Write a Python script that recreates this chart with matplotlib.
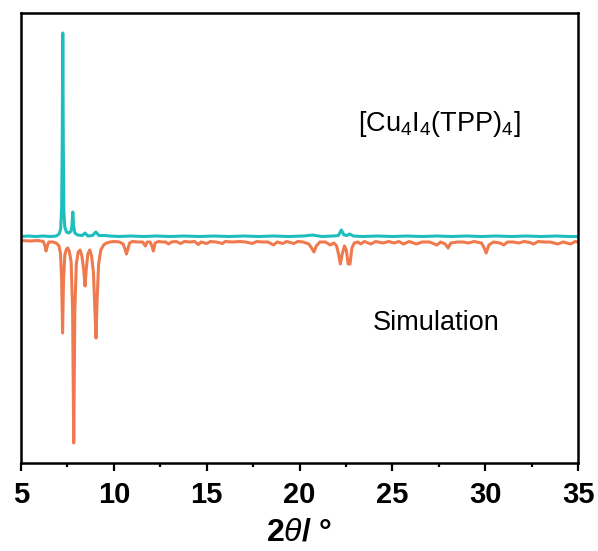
import matplotlib.pyplot as plt
from matplotlib.ticker import MultipleLocator

plt.rcParams["font.family"] = ["Liberation Sans", "DejaVu Sans"]
plt.rcParams["mathtext.fontset"] = "custom"
plt.rcParams["mathtext.rm"] = "Liberation Sans"
plt.rcParams["mathtext.it"] = "Liberation Sans:italic"
plt.rcParams["mathtext.bf"] = "Liberation Sans:bold"

# Measured pattern of [Cu4I4(TPP)4] (2theta, intensity a.u.)
exp_two_theta = [5.0, 5.4, 5.8, 6.2, 6.6, 6.9, 7.05, 7.14, 7.19, 7.22, 7.25, 7.28,
                 7.31, 7.36, 7.45, 7.58, 7.7, 7.75, 7.79, 7.83, 7.9, 8.05, 8.3,
                 8.45, 8.6, 8.85, 9.03, 9.2, 9.5, 9.8, 10.3, 10.9, 11.6, 12.3,
                 13.0, 13.8, 14.6, 15.4, 16.2, 17.0, 17.8, 18.6, 19.4, 20.2,
                 20.7, 21.2, 21.8, 22.1, 22.25, 22.4, 22.55, 22.7, 22.9, 23.4,
                 24.2, 25.0, 25.8, 26.6, 27.4, 28.2, 29.0, 29.8, 30.6, 31.4,
                 32.2, 33.0, 33.8, 34.5, 35.0]
exp_intensity = [0.5, 1, 0.5, 1, 0.5, 1, 3, 8, 30, 90, 204, 90,
                 25, 10, 5, 4, 6, 12, 25, 12, 4, 2, 1.5,
                 4, 1, 1.5, 5, 1.5, 1.5, 1, 0.5, 1, 0.5, 1,
                 0.5, 1, 0.5, 1, 0.5, 1, 0.5, 1, 0.5, 1,
                 2, 0.5, 1, 1.5, 7, 2, 1.5, 3, 1, 0.5,
                 1, 0.5, 1, 0.5, 1, 0.5, 1, 0.5, 1, 0.5,
                 1, 0.5, 1, 0.5, 0.5]

# Simulated pattern (2theta, intensity a.u.), plotted downwards
sim_two_theta = [5.0, 5.5, 5.9, 6.2, 6.3, 6.35, 6.42, 6.5, 6.7, 6.9, 7.05, 7.13,
                 7.19, 7.24, 7.29, 7.36, 7.45, 7.52, 7.6, 7.7, 7.78, 7.84, 7.9,
                 7.98, 8.08, 8.18, 8.28, 8.38, 8.45, 8.52, 8.6, 8.7, 8.8, 8.9,
                 8.98, 9.04, 9.1, 9.18, 9.3, 9.45, 9.6, 9.8, 10.0, 10.3, 10.5,
                 10.6, 10.68, 10.76, 10.85, 11.0, 11.3, 11.55, 11.7, 11.8, 11.95,
                 12.05, 12.13, 12.22, 12.4, 12.6, 12.8, 12.95, 13.1, 13.35, 13.6,
                 13.8, 14.1, 14.35, 14.55, 14.7, 15.0, 15.2, 15.5, 15.85, 16.0,
                 16.4, 16.8, 17.1, 17.45, 17.7, 18.0, 18.3, 18.6, 18.8, 19.1,
                 19.3, 19.7, 19.9, 20.2, 20.5, 20.65, 20.78, 20.9, 21.1, 21.4,
                 21.65, 21.85, 22.0, 22.1, 22.2, 22.3, 22.42, 22.52, 22.62, 22.72,
                 22.82, 22.95, 23.15, 23.3, 23.5, 23.85, 24.1, 24.5, 24.8, 25.1,
                 25.35, 25.6, 25.9, 26.3, 26.6, 27.0, 27.4, 27.6, 27.85, 28.0,
                 28.15, 28.5, 28.8, 29.1, 29.4, 29.8, 29.95, 30.05, 30.2, 30.45,
                 30.8, 31.0, 31.2, 31.5, 31.8, 32.1, 32.4, 32.6, 32.85, 33.2,
                 33.5, 33.9, 34.2, 34.6, 34.85, 35.0]
sim_intensity = [0.5, 1, 0.5, 1.5, 6, 11, 6, 2, 2, 3, 6, 14,
                 40, 93, 40, 15, 9, 8, 11, 22, 70, 203, 70,
                 24, 12, 10, 16, 30, 46, 28, 14, 10, 16, 32,
                 70, 98, 60, 24, 10, 5, 3, 2, 1.5, 2, 4,
                 9, 14, 9, 3, 1.5, 2, 2, 6, 2, 2,
                 6, 11, 3, 1.5, 2, 2, 4, 2, 1.5, 3.5,
                 1.5, 2, 1.5, 4.5, 2, 3.5, 1.5, 2, 3.5, 1.5,
                 2, 1.5, 2, 3.5, 1.5, 2, 2, 5, 2, 3.5,
                 1.5, 3.5, 1.5, 2, 4, 8, 12, 6, 2, 2,
                 5, 3, 6, 14, 24, 14, 6, 10, 24, 24,
                 8, 3, 2, 4, 1.5, 4, 1.5, 3, 1.5, 3,
                 1.5, 4, 1.5, 4, 2, 2, 5, 2, 4, 8,
                 3, 2, 2, 3, 1.5, 3, 8, 13, 5, 2,
                 3, 5, 2, 2, 3, 1.5, 2.5, 4, 1.5, 2,
                 2, 4, 2, 4, 1.5, 2]

sim_offset = -3
sim_values = [sim_offset - v for v in sim_intensity]

fig = plt.figure(figsize=(5.98, 5.51), dpi=100)
ax = fig.add_axes([0.0351, 0.1597, 0.9315, 0.8176])

# Simulation first so the measured curve sits on top
ax.plot(sim_two_theta, sim_values, color="#EE7A4E", linewidth=2.2,
        solid_joinstyle="round")
ax.plot(exp_two_theta, exp_intensity, color="#1FBEBE", linewidth=2.2,
        solid_joinstyle="round")

ax.set_xlim(5, 35)
ax.set_ylim(-226, 224.5)
ax.set_yticks([])

ax.xaxis.set_major_locator(MultipleLocator(5))
ax.xaxis.set_minor_locator(MultipleLocator(2.5))
ax.tick_params(axis="x", which="major", direction="out", length=6, width=1.6,
               labelsize=21, pad=7)
ax.tick_params(axis="x", which="minor", direction="out", length=3, width=1.6)
for label in ax.get_xticklabels():
    label.set_fontweight("bold")
for spine in ax.spines.values():
    spine.set_linewidth(1.8)

ax.set_xlabel(r"$\mathbf{2}\mathit{\theta}$/ °", fontsize=23, fontweight="bold",
              labelpad=6)

ax.text(27.56, 113, r"[Cu$_4$I$_4$(TPP)$_4$]", fontsize=19.5, ha="center",
        va="center")
ax.text(27.37, -86, "Simulation", fontsize=19.5, ha="center", va="center")

fig.savefig("out.png", dpi=100)
